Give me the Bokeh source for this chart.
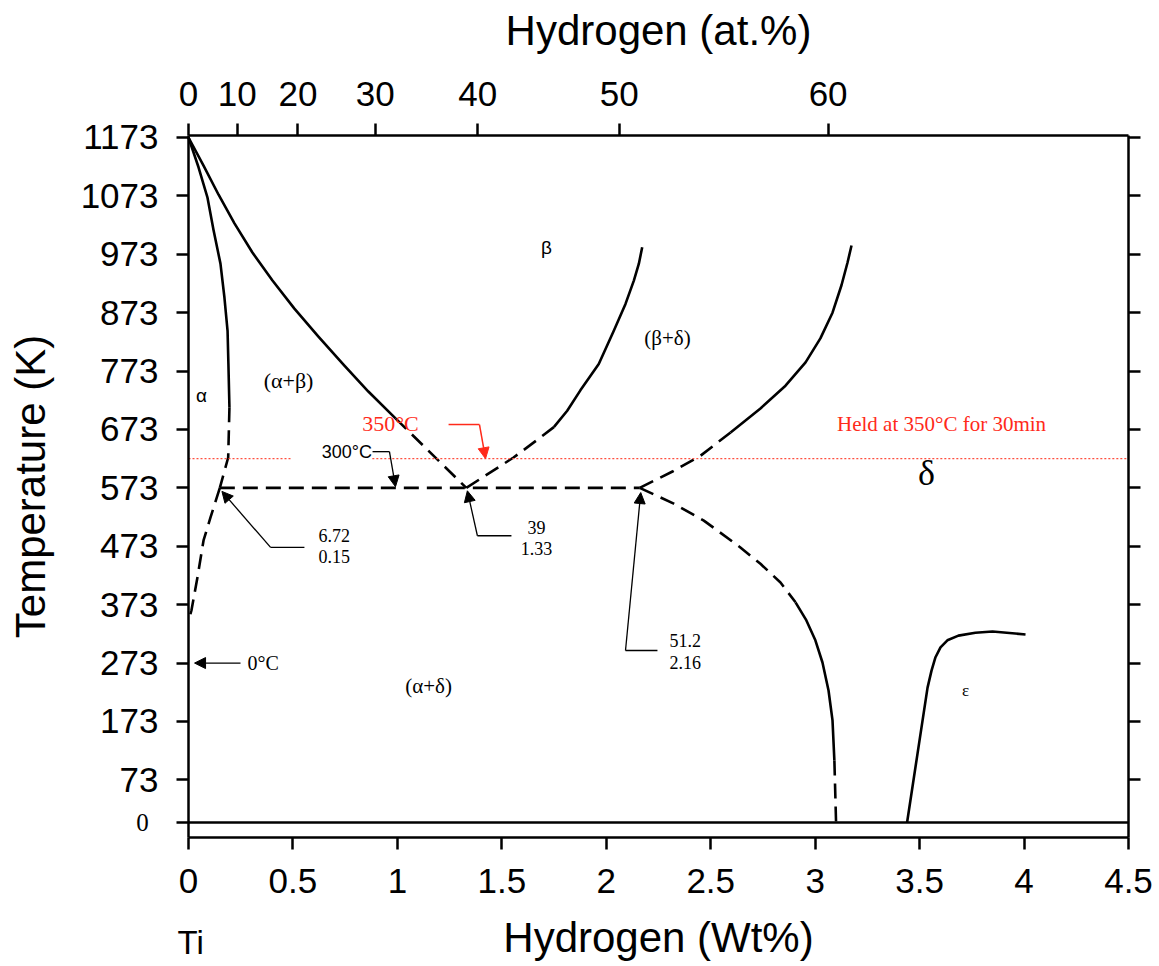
from bokeh.plotting import figure
from bokeh.models import (Range1d, LinearAxis, FixedTicker, Label, Arrow,
                          NormalHead, CustomJSTickFormatter)
from bokeh.embed import file_html
from bokeh.resources import INLINE

# ---- Ti-H phase diagram: composition in wt% H, temperature in K ----
wt_ticks = [0, 0.5, 1, 1.5, 2, 2.5, 3, 3.5, 4, 4.5]
temp_ticks = [0, 73, 173, 273, 373, 473, 573, 673, 773, 873, 973, 1073, 1173]
at_pct_ticks = [0, 10, 20, 30, 40, 50, 60]

M_H, M_TI = 1.008, 47.867


def at_to_wt(a):
    return 100.0 * a * M_H / (a * M_H + (100.0 - a) * M_TI)


# alpha solvus (alpha / alpha+beta)
a_solv_x = [0.0, 0.048, 0.091, 0.120, 0.153, 0.172, 0.187, 0.191, 0.196]
a_solv_t = [1173, 1122, 1070, 1014, 957, 899, 842, 786, 711]
a_solv_dash_x = [0.196, 0.19, 0.15]
a_solv_dash_t = [711, 625, 573]
# alpha solvus below the eutectoid
a_low_x = [0.15, 0.105, 0.072, 0.043, 0.014, 0.0]
a_low_t = [573, 522, 483, 420, 363, 345]

# beta transus (alpha+beta / beta)
b_trans_x = [0.0, 0.072, 0.144, 0.220, 0.306, 0.402, 0.507, 0.622, 0.742,
             0.861, 0.991]
b_trans_t = [1173, 1125, 1075, 1026, 976, 928, 880, 832, 784, 738, 692]
b_trans_dash_x = [0.991, 1.33]
b_trans_dash_t = [692, 573]

# eutectoid isotherm
eut_x = [0.15, 2.16]
eut_t = [573, 573]

# beta / beta+delta
bd_dash_x = [1.33, 1.556, 1.65, 1.749]
bd_dash_t = [573, 625, 650, 677]
bd_x = [1.749, 1.813, 1.876, 1.964, 2.036, 2.092, 2.132, 2.156, 2.172]
bd_t = [677, 705, 740, 785, 842, 888, 928, 957, 985]

# delta / beta+delta
db_dash_x = [2.16, 2.317, 2.451, 2.595]
db_dash_t = [573, 601, 628, 668]
db_x = [2.595, 2.738, 2.858, 2.954, 3.025, 3.083, 3.126, 3.155, 3.174]
db_t = [668, 709, 748, 788, 829, 873, 920, 959, 988]

# delta / alpha+delta
da_dash_x = [2.16, 2.323, 2.467, 2.642, 2.738, 2.834, 2.906]
da_dash_t = [573, 546, 517, 471, 443, 411, 377]
da_x = [2.906, 2.958, 3.001, 3.035, 3.064, 3.083, 3.092]
da_t = [377, 346, 312, 274, 226, 175, 106]
da_low_x = [3.092, 3.10]
da_low_t = [106, 0]

# epsilon boundary
eps_x = [3.44, 3.490, 3.538, 3.557, 3.576, 3.600, 3.633, 3.686, 3.767,
         3.849, 4.007]
eps_t = [0, 118, 231, 260, 283, 300, 312, 320, 325, 327, 322]

# zero-kelvin baseline
base_x = [0, 4.5]
base_t = [0, 0]

# 350 degC hold line (623 K), broken around the 300 degC note
hold_t = 623
hold_segments = [(0.0, 0.49), (0.88, 4.5)]

# extent of the boxed diagram and of the whole drawing surface
BOX_X = (0.0, 4.5)
BOX_T = (-25.7, 1176.4)
VIEW_X = (-0.9, 4.6484)
VIEW_T = (-246.6, 1407.6)

SANS = "Liberation Sans"
SERIF = "Liberation Serif"
RED = "#ff2a1a"

p = figure(width=1159, height=966, output_backend="svg", toolbar_location=None,
           x_range=Range1d(*VIEW_X), y_range=Range1d(*VIEW_T),
           x_axis_location=None, y_axis_location=None, min_border=0)
p.title.visible = False
p.outline_line_color = None
p.grid.visible = False
p.background_fill_color = "white"
p.border_fill_color = "white"


def make_axis(side, at, bounds, ticks, formatter, title=None,
              label_standoff=5, title_standoff=5):
    ax = LinearAxis(fixed_location=at, bounds=bounds,
                    ticker=FixedTicker(ticks=ticks), formatter=formatter)
    ax.axis_line_width = 2.5
    ax.axis_line_color = "black"
    ax.major_tick_line_width = 2.5
    ax.major_tick_line_color = "black"
    ax.major_tick_out = 12
    ax.major_tick_in = 0
    ax.minor_tick_out = 0
    ax.minor_tick_in = 0
    ax.major_label_text_font = SANS
    ax.major_label_text_font_size = "35px"
    ax.major_label_text_color = "black"
    ax.major_label_standoff = label_standoff
    if title:
        ax.axis_label = title
        ax.axis_label_text_font = SANS
        ax.axis_label_text_font_size = "42px"
        ax.axis_label_text_font_style = "normal"
        ax.axis_label_text_color = "black"
        ax.axis_label_standoff = title_standoff
    p.add_layout(ax, side)
    return ax


make_axis("below", BOX_T[0], BOX_X, wt_ticks,
          CustomJSTickFormatter(code="return String(tick)"),
          "Hydrogen (Wt%)", 19, 18)
make_axis("left", BOX_X[0], BOX_T, temp_ticks,
          CustomJSTickFormatter(code="return tick === 0 ? '' : String(tick)"),
          "Temperature (K)", 18, 24)
make_axis("above", BOX_T[1], BOX_X, [at_to_wt(a) for a in at_pct_ticks],
          CustomJSTickFormatter(code="""
              const h = tick / 1.008, ti = (100 - tick) / 47.867;
              return String(Math.round(100 * h / (h + ti)));
          """),
          "Hydrogen (at.%)", 18, 25)
make_axis("right", BOX_X[1], BOX_T, temp_ticks[1:],
          CustomJSTickFormatter(code="return ''"))


def boundary(xs, ts, dashed=False):
    p.line(xs, ts, line_color="black", line_width=2.6,
           line_dash="15 8" if dashed else "solid", line_join="round")


boundary(base_x, base_t)
boundary(a_solv_x, a_solv_t)
boundary(a_solv_dash_x, a_solv_dash_t, True)
boundary(a_low_x, a_low_t, True)
boundary(b_trans_x, b_trans_t)
boundary(b_trans_dash_x, b_trans_dash_t, True)
boundary(eut_x, eut_t, True)
boundary(bd_dash_x, bd_dash_t, True)
boundary(bd_x, bd_t)
boundary(db_dash_x, db_dash_t, True)
boundary(db_x, db_t)
boundary(da_dash_x, da_dash_t, True)
boundary(da_x, da_t)
boundary(da_low_x, da_low_t, True)
boundary(eps_x, eps_t)

for x0, x1 in hold_segments:
    p.line([x0, x1], [hold_t, hold_t], line_color="#ff5040", line_width=1.2,
           line_dash="2 2")


def text(x, y, s, font=SERIF, size="21px", color="black", align="center"):
    p.add_layout(Label(x=x, y=y, text=s, text_font=font, text_font_size=size,
                       text_color=color, text_align=align,
                       text_baseline="middle"))


def leader(xs, ts, tip, color="black", width=1.3):
    if len(xs) > 1:
        p.line(xs, ts, line_color=color, line_width=width)
    p.add_layout(Arrow(end=NormalHead(size=11, fill_color=color,
                                      line_color=color, line_width=1),
                       x_start=xs[-1], y_start=ts[-1],
                       x_end=tip[0], y_end=tip[1],
                       line_color=color, line_width=width))


# phase field labels
text(0.062, 731, "α", font=SANS, size="19px")
text(0.479, 757, "(α+β)", size="22px")
text(1.714, 985, "β", font=SANS, size="19px")
text(2.293, 829, "(β+δ)", size="21px")
text(3.533, 598, "δ", size="36px")
text(3.72, 226, "ε", size="17px")
text(1.149, 233, "(α+δ)", size="21px")
text(3.605, 683, "Held at 350°C for 30min", size="21px", color=RED)

# temperature notes
text(0.967, 683, "350°C", size="22px", color=RED)
leader([1.245, 1.393], [681.5, 681.5], (1.422, 623), color=RED, width=1.5)
text(0.878, 635, "300°C", font=SANS, size="18px", align="right")
leader([0.881, 0.962], [635, 635], (0.991, 575))
text(0.282, 273, "0°C", size="20px", align="left")
leader([0.249], [273], (0.029, 273))

# invariant point compositions (at.% over wt%)
text(0.622, 491, "6.72", size="18px", align="left")
text(0.622, 455, "0.15", size="18px", align="left")
leader([0.555, 0.393], [471, 471], (0.16, 567))
text(1.666, 505, "39", size="18px")
text(1.666, 469, "1.33", size="18px")
leader([1.546, 1.383], [491, 491], (1.335, 568))
text(2.303, 311.6, "51.2", size="18px", align="left")
text(2.303, 274, "2.16", size="18px", align="left")
leader([2.245, 2.092], [294.5, 294.5], (2.165, 565))

# zero tick label and element symbol
text(-0.19, 0, "0", size="25px", align="right")
text(0.01, -205, "Ti", font=SANS, size="33px")

open("out.html", "w").write(file_html(p, INLINE))
